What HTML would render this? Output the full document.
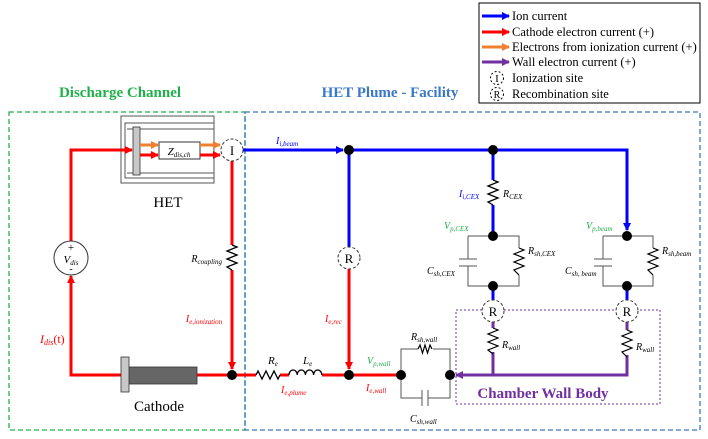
<!DOCTYPE html>
<html><head><meta charset="utf-8"><style>
body{margin:0;background:#fff}
svg{display:block;font-family:"Liberation Serif",serif}
.it{font-style:italic}
</style></head><body>
<svg width="708" height="439" viewBox="0 0 708 439" xmlns="http://www.w3.org/2000/svg">
<defs>
<marker id="ab" markerWidth="8" markerHeight="8" refX="7" refY="4" orient="auto" markerUnits="userSpaceOnUse"><path d="M0,0 L8,4 L0,8z" fill="#0000ff"/></marker>
<marker id="ar" markerWidth="8" markerHeight="8" refX="7" refY="4" orient="auto" markerUnits="userSpaceOnUse"><path d="M0,0 L8,4 L0,8z" fill="#ff0000"/></marker>
<marker id="ao" markerWidth="8" markerHeight="8" refX="7" refY="4" orient="auto" markerUnits="userSpaceOnUse"><path d="M0,0 L8,4 L0,8z" fill="#f08030"/></marker>
<marker id="ap" markerWidth="8" markerHeight="8" refX="7" refY="4" orient="auto" markerUnits="userSpaceOnUse"><path d="M0,0 L8,4 L0,8z" fill="#7030a0"/></marker>
</defs>

<!-- legend -->
<rect x="479" y="3" width="221" height="100" fill="#fff" stroke="#000" stroke-width="1"/>
<g stroke-width="3">
<line x1="482" y1="16" x2="509" y2="16" stroke="#0000ff" marker-end="url(#ab)"/>
<line x1="482" y1="32" x2="509" y2="32" stroke="#ff0000" marker-end="url(#ar)"/>
<line x1="482" y1="47" x2="509" y2="47" stroke="#f08030" marker-end="url(#ao)"/>
<line x1="482" y1="62" x2="509" y2="62" stroke="#7030a0" marker-end="url(#ap)"/>
</g>
<g font-size="12.5" fill="#000">
<text x="512" y="20">Ion current</text>
<text x="512" y="36">Cathode electron current (+)</text>
<text x="512" y="51">Electrons from ionization current (+)</text>
<text x="512" y="66">Wall electron current (+)</text>
<text x="512" y="82">Ionization site</text>
<text x="512" y="98">Recombination site</text>
</g>
<circle cx="497" cy="78" r="6.5" fill="none" stroke="#000" stroke-dasharray="2,2"/>
<text x="497" y="82" font-size="11" text-anchor="middle">I</text>
<circle cx="497" cy="94" r="6.5" fill="none" stroke="#000" stroke-dasharray="2,2"/>
<text x="497" y="98" font-size="10" text-anchor="middle">R</text>

<!-- titles -->
<text x="120" y="97" font-size="15" font-weight="bold" fill="#22b04a" text-anchor="middle">Discharge Channel</text>
<text x="390" y="97" font-size="15" font-weight="bold" fill="#3a78c8" text-anchor="middle">HET Plume - Facility</text>

<!-- boxes -->
<rect x="9" y="112" width="236" height="318" fill="none" stroke="#22b04a" stroke-width="1.3" stroke-dasharray="5,3"/>
<rect x="245" y="112" width="455" height="318" fill="none" stroke="#3a78c8" stroke-width="1.3" stroke-dasharray="5,3"/>
<rect x="456" y="310" width="204" height="94" fill="none" stroke="#7030a0" stroke-width="1" stroke-dasharray="2,2"/>
<text x="543" y="398" font-size="15" font-weight="bold" fill="#7030a0" text-anchor="middle">Chamber Wall Body</text>

<!-- HET -->
<rect x="121" y="116" width="93" height="67" fill="#fff" stroke="#555" stroke-width="1"/>
<path d="M214,123 H125 V178 H214 M127,129 H214 M127,173 H214" fill="none" stroke="#555" stroke-width="1"/>
<rect x="133" y="127" width="7" height="48" fill="#c8c8c8" stroke="#333" stroke-width="0.8"/>
<rect x="159" y="142" width="41" height="17" fill="#fff" stroke="#333" stroke-width="1"/>
<text x="179" y="155" font-size="11" text-anchor="middle"><tspan class="it">Z</tspan><tspan class="it" font-size="7" dy="2">dis,ch</tspan></text>
<g stroke-width="3">
<line x1="140" y1="145" x2="158" y2="145" stroke="#f08030" marker-end="url(#ao)"/>
<line x1="140" y1="155" x2="158" y2="155" stroke="#ff0000" marker-end="url(#ar)"/>
<line x1="200" y1="145" x2="220" y2="145" stroke="#f08030" marker-end="url(#ao)"/>
<line x1="200" y1="155" x2="220" y2="155" stroke="#ff0000" marker-end="url(#ar)"/>
</g>
<text x="168" y="207" font-size="15" text-anchor="middle">HET</text>

<!-- left loop -->
<g stroke="#ff0000" stroke-width="3" fill="none">
<polyline points="71,241 71,150 132,150" marker-end="url(#ar)"/>
<polyline points="121,375 71,375 71,276" marker-end="url(#ar)"/>
<line x1="197" y1="375" x2="256" y2="375"/>
<line x1="232" y1="161" x2="232" y2="245"/>
<line x1="232" y1="270" x2="232" y2="369" marker-end="url(#ar)"/>
<line x1="280" y1="375" x2="289" y2="375"/>
<line x1="322" y1="375" x2="401" y2="375"/>
<line x1="349" y1="269" x2="349" y2="369" marker-end="url(#ar)"/>
</g>
<circle cx="71" cy="258" r="17" fill="#fff" stroke="#333" stroke-width="1"/>
<text x="71" y="251" font-size="11" text-anchor="middle">+</text>
<text x="71" y="263" font-size="11" text-anchor="middle" class="it">V<tspan font-size="7" dy="2">dis</tspan></text>
<text x="71" y="272" font-size="10" text-anchor="middle">-</text>
<text x="40" y="343" font-size="12" fill="#ff0000"><tspan class="it">I</tspan><tspan class="it" font-size="8" dy="2">dis</tspan><tspan dy="-2">(t)</tspan></text>

<!-- cathode -->
<rect x="128" y="367" width="69" height="17" fill="#666" stroke="#333" stroke-width="0.8"/>
<rect x="121" y="357" width="8" height="35" fill="#c8c8c8" stroke="#333" stroke-width="0.8"/>
<text x="159" y="411" font-size="15" text-anchor="middle">Cathode</text>

<!-- R coupling -->
<path d="M232,245 l5,2 l-10,4 l10,4 l-10,4 l10,4 l-10,4 l5,3" fill="none" stroke="#000" stroke-width="1.3"/>
<text x="222" y="262" font-size="10" text-anchor="end" class="it">R<tspan font-size="7" dy="2">coupling</tspan></text>
<text x="204" y="322" font-size="10" fill="#ff0000" text-anchor="middle" class="it">I<tspan font-size="7" dy="2">e,ionization</tspan></text>

<!-- Re Le -->
<path d="M256,375 l2,-4 l4,8 l4,-8 l4,8 l4,-8 l4,8 l2,-4" fill="none" stroke="#000" stroke-width="1.3"/>
<path d="M289,375 a4.1,5 0 0 1 8.2,0 a4.1,5 0 0 1 8.2,0 a4.1,5 0 0 1 8.2,0 a4.1,5 0 0 1 8.2,0" fill="none" stroke="#000" stroke-width="1.3"/>
<text x="268" y="364" font-size="11" class="it">R<tspan font-size="7" dy="2">e</tspan></text>
<text x="303" y="364" font-size="11" class="it">L<tspan font-size="7" dy="2">e</tspan></text>
<text x="281" y="393" font-size="10" fill="#ff0000" class="it">I<tspan font-size="7" dy="2">e,plume</tspan></text>
<text x="325" y="322" font-size="10" fill="#ff0000" class="it">I<tspan font-size="7" dy="2">e,rec</tspan></text>

<!-- blue -->
<g stroke="#0000ff" stroke-width="3" fill="none">
<line x1="243" y1="150" x2="343" y2="150" marker-end="url(#ab)"/>
<line x1="349" y1="150" x2="349" y2="247"/>
<polyline points="349,150 627,150 627,230" marker-end="url(#ab)"/>
<line x1="493" y1="150" x2="493" y2="180"/>
<line x1="493" y1="205" x2="493" y2="236"/>
<line x1="493" y1="286" x2="493" y2="300"/>
<line x1="627" y1="286" x2="627" y2="300"/>
</g>
<text x="276" y="144" font-size="10" fill="#0000ff" class="it">I<tspan font-size="7" dy="2">i,beam</tspan></text>
<path d="M493,180 l5,2 l-10,4 l10,4 l-10,4 l10,4 l-10,4 l5,3" fill="none" stroke="#000" stroke-width="1.3"/>
<text x="459" y="197" font-size="10" fill="#0000ff" class="it">I<tspan font-size="7" dy="2">i,CEX</tspan></text>
<text x="503" y="197" font-size="10" class="it">R<tspan font-size="7" dy="2">CEX</tspan></text>

<!-- sheath boxes -->
<g stroke="#555" stroke-width="1" fill="none">
<path d="M468,236 H519 V248 M519,275 V286 H468 V266 M468,259 V236"/>
<path d="M459,259 H477 M459,266 H477"/>
<path d="M603,236 H653 V248 M653,275 V286 H603 V266 M603,259 V236"/>
<path d="M594,259 H612 M594,266 H612"/>
<path d="M401,375 V349 H418 M433,349 H450 V398 H428 M422,398 H401 V375"/>
<path d="M422,390 V406 M428,390 V406"/>
</g>
<g fill="none" stroke="#000" stroke-width="1.2">
<path d="M519,248 l5,2 l-10,4 l10,4 l-10,4 l10,4 l-10,4 l5,5"/>
<path d="M653,248 l5,2 l-10,4 l10,4 l-10,4 l10,4 l-10,4 l5,5"/>
<path d="M418,349 l2,-4 l2.5,8 l2.5,-8 l2.5,8 l2.5,-8 l2,4"/>
</g>
<text x="444" y="229" font-size="10" fill="#22b04a" class="it">V<tspan font-size="7" dy="2">p,CEX</tspan></text>
<text x="528" y="254" font-size="10" class="it">R<tspan font-size="7" dy="2">sh,CEX</tspan></text>
<text x="427" y="274" font-size="10" class="it">C<tspan font-size="7" dy="2">sh,CEX</tspan></text>
<text x="586" y="229" font-size="10" fill="#22b04a" class="it">V<tspan font-size="7" dy="2">p,beam</tspan></text>
<text x="662" y="254" font-size="10" class="it">R<tspan font-size="7" dy="2">sh,beam</tspan></text>
<text x="565" y="274" font-size="10" class="it">C<tspan font-size="7" dy="2">sh, beam</tspan></text>
<text x="411" y="340" font-size="10" class="it">R<tspan font-size="7" dy="2">sh,wall</tspan></text>
<text x="410" y="422" font-size="10" class="it">C<tspan font-size="7" dy="2">sh,wall</tspan></text>
<text x="367" y="364" font-size="10" fill="#22b04a" class="it">V<tspan font-size="7" dy="2">p,wall</tspan></text>
<text x="366" y="391" font-size="10" fill="#ff0000" class="it">I<tspan font-size="7" dy="2">e,wall</tspan></text>

<!-- purple -->
<g stroke="#7030a0" stroke-width="3" fill="none">
<line x1="493" y1="322" x2="493" y2="328"/>
<line x1="627" y1="322" x2="627" y2="330"/>
<polyline points="493,352 493,375"/>
<polyline points="627,355 627,375 456,375" marker-end="url(#ap)"/>
</g>
<path d="M493,328 l5,2 l-10,4 l10,4 l-10,4 l10,4 l-10,4 l5,4" fill="none" stroke="#000" stroke-width="1.2"/>
<path d="M627,330 l5,2 l-10,4 l10,4 l-10,4 l10,4 l-10,4 l5,5" fill="none" stroke="#000" stroke-width="1.2"/>
<text x="502" y="348" font-size="10" class="it">R<tspan font-size="7" dy="2">wall</tspan></text>
<text x="636" y="350" font-size="10" class="it">R<tspan font-size="7" dy="2">wall</tspan></text>

<!-- circles -->
<g fill="#fff" stroke="#333" stroke-width="1" stroke-dasharray="3,2">
<circle cx="232" cy="150" r="11"/>
<circle cx="349" cy="258" r="11"/>
<circle cx="493" cy="311" r="11"/>
<circle cx="627" cy="311" r="11"/>
</g>
<g font-size="13" text-anchor="middle">
<text x="232" y="155">I</text>
<text x="349" y="263">R</text>
<text x="493" y="316">R</text>
<text x="627" y="316">R</text>
</g>

<!-- nodes -->
<g fill="#000">
<circle cx="232" cy="375" r="5"/>
<circle cx="349" cy="375" r="5"/>
<circle cx="349" cy="150" r="5"/>
<circle cx="493" cy="150" r="5"/>
<circle cx="493" cy="236" r="5"/>
<circle cx="493" cy="286" r="5"/>
<circle cx="627" cy="236" r="5"/>
<circle cx="627" cy="286" r="5"/>
<circle cx="401" cy="375" r="5"/>
<circle cx="450" cy="375" r="5"/>
</g>
</svg>
</body></html>
